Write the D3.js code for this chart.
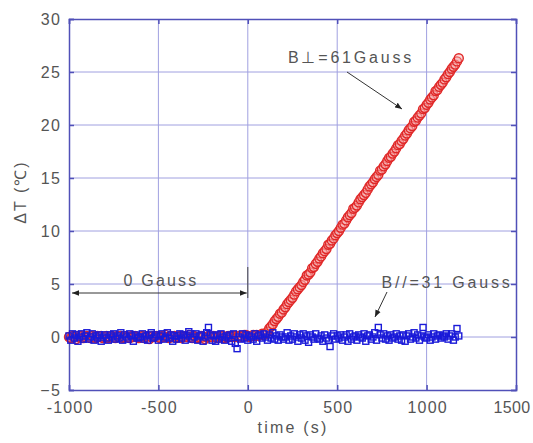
<!DOCTYPE html>
<html><head><meta charset="utf-8">
<script src="https://cdn.jsdelivr.net/npm/d3@7"></script>
<style>body{margin:0;background:#fff}text{font-family:"Liberation Sans",Arial,sans-serif}</style>
</head><body><svg id="c" width="533" height="443"></svg>
<script>
const timeStart = -1000, timeStep = 10;
const redValues = [
// -1000 .. 90 (flat)
0.0,-0.1,0.1,0.0,-0.2,0.1,0.0,0.1,-0.1,0.0, 0.1,0.0,-0.1,0.1,0.0,-0.1,0.1,0.0,0.1,-0.1,
0.0,0.1,-0.1,0.0,0.1,0.0,-0.1,0.1,0.0,0.1, -0.1,0.0,0.1,0.0,-0.1,0.1,0.0,0.1,0.0,-0.1,
0.0,0.1,-0.1,0.0,0.1,-0.2,0.0,0.1,0.0,0.1, 0.0,-0.1,0.1,0.0,0.2,0.0,-0.1,0.1,0.0,0.1,
-0.1,0.0,0.1,-0.1,0.0,0.1,0.0,0.2,0.0,-0.1, 0.1,0.0,-0.1,0.0,0.1,0.0,-0.2,0.0,0.1,0.0,
0.0,0.1,0.0,-0.1,0.1,0.0,0.1,-0.1,0.0,0.1, 0.0,0.1,0.0,0.1,0.0,0.1,0.1,0.0,0.2,0.2,
0.1,0.0,0.1,0.2,0.1,0.2,0.1,0.2,0.3,0.2,
// 100 .. 1180 (rising)
0.3,0.5,0.8,1.0,1.2,1.5,1.7,1.9,2.2,2.3, 2.6,2.8,3.1,3.3,3.5,3.7,4.0,4.3,4.5,4.7,
4.9,5.2,5.4,5.8,5.9,6.1,6.5,6.6,6.9,7.1, 7.4,7.6,7.9,8.1,8.3,8.7,8.8,9.1,9.3,9.6,
9.8,10.0,10.3,10.6,10.7,11.0,11.3,11.5,11.7,12.1, 12.2,12.4,12.7,13.0,13.2,13.4,13.6,13.9,14.2,14.4,
14.6,14.9,15.1,15.3,15.7,15.8,16.1,16.3,16.6,16.9, 17.0,17.3,17.5,17.8,18.1,18.2,18.5,18.7,19.0,19.2,
19.5,19.7,19.9,20.3,20.4,20.7,20.9,21.1,21.5,21.6, 21.9,22.1,22.4,22.6,22.8,23.2,23.3,23.6,23.8,24.0,
24.3,24.5,24.8,25.0,25.3,25.5,25.7,26.0,26.3];
const blueValues = [
0.1,-0.3,0.3,-0.1,0.2,-0.4,0.0,0.3,-0.2,0.1, 0.4,-0.2,0.0,0.3,-0.3,0.1,-0.1,0.2,-0.4,0.0,
0.2,-0.1,-0.3,0.2,0.0,0.3,-0.2,0.1,-0.1,0.4, -0.3,0.2,0.0,-0.2,0.3,0.1,-0.4,0.2,-0.1,0.0,
0.0,0.3,-0.2,0.1,-0.3,0.2,0.4,-0.1,0.0,0.2, -0.3,0.1,0.3,-0.2,0.0,0.4,-0.1,0.2,-0.4,0.1,
-0.2,0.1,0.3,-0.1,0.2,-0.3,0.1,0.5,0.3,-0.2, 0.0,0.3,-0.3,0.1,0.2,-0.4,0.0,0.4,0.9,0.2,
-0.3,0.1,-0.4,0.2,-0.2,0.3,0.0,-0.3,0.1,-0.1, 0.2,-0.4,0.3,-0.6,-1.1,0.0,-0.2,0.3,-0.1,0.2,
-0.3,0.1,0.0,-0.2,0.3,-0.4,0.1,0.2,-0.1,0.3, 0.0,-0.3,0.2,-0.1,0.4,-0.2,0.1,-0.3,0.2,0.0,
-0.2,0.0,0.4,-0.3,0.1,-0.2,0.3,0.0,-0.4,0.2, -0.1,0.3,-0.3,0.1,-0.5,0.2,0.0,-0.2,0.3,-0.1,
-0.2,0.1,-0.4,0.2,-0.1,-0.3,-0.9,0.1,0.3,-0.2, 0.1,-0.1,0.2,-0.3,0.0,0.2,-0.4,0.3,-0.2,0.0,
0.1,-0.3,0.2,0.0,-0.1,0.3,-0.4,0.1,0.2,-0.2, 0.0,0.4,-0.3,0.9,0.2,-0.1,0.3,-0.2,0.1,-0.3,
0.2,-0.1,0.0,0.3,-0.2,0.1,-0.3,0.2,-0.4,0.1, 0.3,-0.2,0.0,0.4,-0.1,0.2,-0.3,0.1,0.9,0.0,
-0.1,0.2,-0.3,0.0,0.3,-0.2,0.1,0.2,-0.1, 0.1,0.0,0.3,-0.2,0.1,0.3,-0.3,0.0,0.8,0.1];
const xTicks = [-1000,-500,0,500,1000,1500];
const yTicks = [-5,0,5,10,15,20,25,30];

const svg = d3.select("#c");
const L=69,T=19,R=516,B=390;
const x = d3.scaleLinear().domain([-1000,1500]).range([L,R]);
const y = d3.scaleLinear().domain([-5,30]).range([B,T]);
const gridC="#a0a0e0", frameC="#5050b8", textC="#555";

svg.append("g").selectAll("line").data(xTicks.slice(1,-1)).join("line")
 .attr("x1",d=>x(d)).attr("x2",d=>x(d)).attr("y1",T).attr("y2",B).attr("stroke",gridC).attr("stroke-width",1);
svg.append("g").selectAll("line").data(yTicks.slice(1,-1)).join("line")
 .attr("y1",d=>y(d)).attr("y2",d=>y(d)).attr("x1",L).attr("x2",R).attr("stroke",gridC).attr("stroke-width",1);

const ax = svg.append("g").attr("transform",`translate(0,${B})`).call(d3.axisBottom(x).tickValues(xTicks).tickSize(-5).tickPadding(12).tickFormat(d=>d));
const ay = svg.append("g").attr("transform",`translate(${L},0)`).call(d3.axisLeft(y).tickValues(yTicks).tickSize(-5).tickPadding(9));
const ax2 = svg.append("g").attr("transform",`translate(0,${T})`).call(d3.axisTop(x).tickValues(xTicks).tickSize(-5).tickFormat(""));
const ay2 = svg.append("g").attr("transform",`translate(${R},0)`).call(d3.axisRight(y).tickValues(yTicks).tickSize(-5).tickFormat(""));
[ax,ay,ax2,ay2].forEach(g=>{
  g.select(".domain").attr("stroke",frameC).attr("stroke-width",1.5);
  g.selectAll(".tick line").attr("stroke",frameC).attr("stroke-width",1.5);
  g.selectAll(".tick text").attr("fill",textC).attr("font-size",16)
   .attr("font-family","Liberation Sans, Arial, sans-serif");
});
ax.selectAll(".tick text").attr("letter-spacing","1.2px").attr("dx","0.6px");
ax.selectAll(".tick text").filter(d=>d===1500).attr("letter-spacing","0.4px").attr("dx","-4.5px");
ay.selectAll(".tick text").attr("letter-spacing","1.5px").attr("dx","1.5px");

const red = redValues.map((v,i)=>({t:timeStart+i*timeStep,v}));
const blue = blueValues.map((v,i)=>({t:timeStart+i*timeStep,v}));

svg.append("g").selectAll("circle").data(red).join("circle")
 .attr("cx",d=>x(d.t)).attr("cy",d=>y(d.v)).attr("r",4.5)
 .attr("fill","#f4a0a0").attr("fill-opacity",0.4).attr("stroke","#e02828").attr("stroke-width",1.4);
svg.append("g").selectAll("rect").data(blue).join("rect")
 .attr("x",d=>x(d.t)-3).attr("y",d=>y(d.v)-3).attr("width",6).attr("height",6)
 .attr("fill","none").attr("stroke","#1a1ad8").attr("stroke-width",1.4);

const defs = svg.append("defs");
defs.append("marker").attr("id","ah").attr("viewBox","0 0 10 10").attr("refX",10).attr("refY",5)
 .attr("markerWidth",7).attr("markerHeight",7).attr("orient","auto-start-reverse")
 .append("path").attr("d","M0,1 L10,5 L0,9 z").attr("fill","#222");
const ann = svg.append("g").attr("stroke","#333").attr("stroke-width",1);
ann.append("line").attr("x1",x(-1000)+3).attr("x2",x(0)-1).attr("y1",293).attr("y2",293)
 .attr("marker-start","url(#ah)").attr("marker-end","url(#ah)");
ann.append("line").attr("x1",x(0)).attr("x2",x(0)).attr("y1",267).attr("y2",298).attr("stroke","#444");
ann.append("line").attr("x1",347).attr("y1",72).attr("x2",402).attr("y2",109).attr("marker-end","url(#ah)");
ann.append("line").attr("x1",387).attr("y1",292).attr("x2",375).attr("y2",317).attr("marker-end","url(#ah)");

const tx = (s,xx,yy,ls)=>svg.append("text").attr("x",xx).attr("y",yy).attr("text-anchor","middle")
  .attr("fill",textC).attr("font-size",16).attr("letter-spacing",ls+"px").text(s);
tx("B⊥=61Gauss",351,63,2.8);
tx("0 Gauss",161,286,2.2);
tx("B//=31 Gauss",447,288,2.8);
tx("time (s)",293,433,2.2);
svg.append("text").attr("transform","translate(26,192) rotate(-90)").attr("text-anchor","middle")
 .attr("fill",textC).attr("font-size",16).attr("letter-spacing","2px").text("ΔT (℃)");
</script></body></html>
